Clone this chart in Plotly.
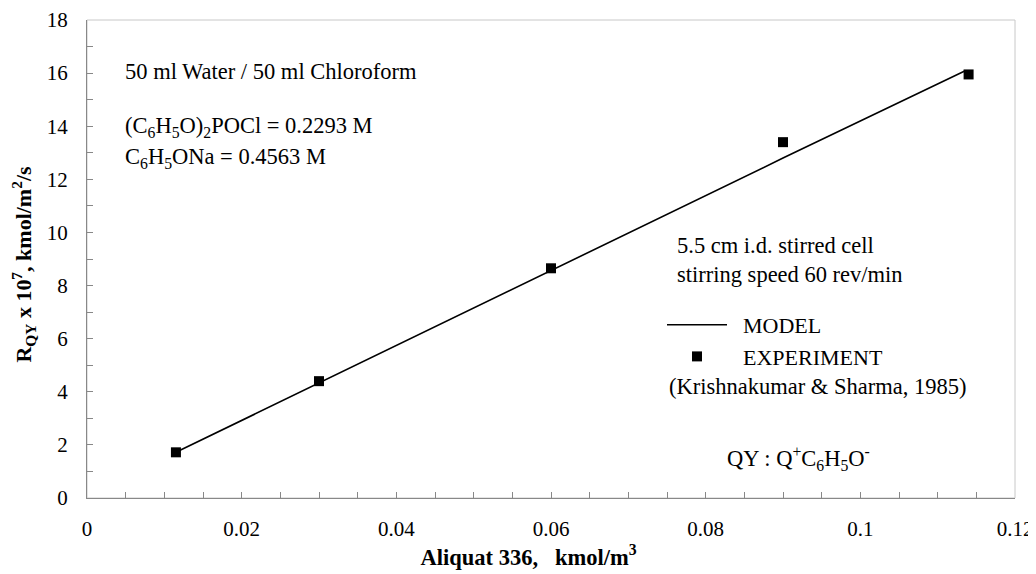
import plotly.graph_objects as go

# Data
exp_x = [0.0115, 0.030, 0.060, 0.090, 0.114]
exp_y = [1.72, 4.40, 8.65, 13.40, 15.95]
model_x = [0.0115, 0.030, 0.060, 0.090, 0.1135]
model_y = [1.72, 4.33, 8.57, 12.80, 16.08]

x_tickvals = [0, 0.02, 0.04, 0.06, 0.08, 0.1, 0.12]
x_ticktext = ["0", "0.02", "0.04", "0.06", "0.08", "0.1", "0.12"]

FONT = "Liberation Serif, Times New Roman, serif"

fig = go.Figure()
fig.add_trace(go.Scatter(x=model_x, y=model_y, mode="lines", name="&nbsp;&nbsp;MODEL",
                         line=dict(color="black", width=1.6)))
fig.add_trace(go.Scatter(x=exp_x, y=exp_y, mode="markers", name="&nbsp;&nbsp;EXPERIMENT",
                         marker=dict(symbol="square", size=10, color="black")))

axis_common = dict(showgrid=False, zeroline=False, showline=True, linecolor="#888888",
                   linewidth=1, ticks="inside", ticklen=6, tickcolor="#888888",
                   automargin=False,
                   tickfont=dict(family=FONT, size=21, color="black"))

fig.update_xaxes(range=[0, 0.12], tickvals=x_tickvals, ticktext=x_ticktext,
                 ticklabelstandoff=12,
                 minor=dict(dtick=0.005, tick0=0, ticks="inside", ticklen=6, tickcolor="#888888"),
                 title=dict(text="<b>Aliquat 336,   kmol/m<sup>3</sup></b>" + "&nbsp;" * 8,
                            font=dict(family=FONT, size=22.5, color="black"), standoff=0),
                 **axis_common)
fig.update_yaxes(range=[0, 18], dtick=2, ticklabelstandoff=14,
                 minor=dict(dtick=1, ticks="inside", ticklen=6, tickcolor="#888888"),
                 title=dict(text="<b>R<sub>QY</sub> x 10<sup>7</sup>, kmol/m<sup>2</sup>/s</b>" + "&nbsp;" * 2,
                            font=dict(family=FONT, size=22, color="black"), standoff=10),
                 **axis_common)

# light top/right border
fig.add_shape(type="rect", xref="paper", yref="paper", x0=0, y0=0, x1=1, y1=1,
              line=dict(color="#c8c8c8", width=1), layer="below")

def note(text, x, y, anchor="left"):
    fig.add_annotation(text=text, xref="paper", yref="paper", x=x, y=y,
                       xanchor=anchor, yanchor="middle", showarrow=False,
                       font=dict(family=FONT, size=22.5, color="black"))

# paper coords: plot area spans page pixels x 87..1015, y 20..498
def px(xp):
    return (xp - 87) / 928.0

def py(yp):
    return (498 - yp) / 478.0

note("50 ml Water / 50 ml Chloroform", px(123), py(72))
note("(C<sub>6</sub>H<sub>5</sub>O)<sub>2</sub>POCl = 0.2293 M", px(123), py(127))
note("C<sub>6</sub>H<sub>5</sub>ONa = 0.4563 M", px(123), py(158))
note("5.5 cm i.d. stirred cell", px(675), py(246))
note("stirring speed 60 rev/min", px(675), py(274))
note("(Krishnakumar &amp; Sharma, 1985)", px(667), py(386))
note("QY : Q<sup>+</sup>C<sub>6</sub>H<sub>5</sub>O<sup>-</sup>", px(725), py(458))

# the page body adds an 8px offset; size the figure to fill the rest of the window
fig.update_layout(
    width=1028, height=566,
    margin=dict(l=79, r=21, t=12, b=76),
    paper_bgcolor="white", plot_bgcolor="white",
    showlegend=True,
    legend=dict(x=px(662), y=py(304), xanchor="left", yanchor="top",
                font=dict(family=FONT, size=22, color="black"),
                bgcolor="rgba(0,0,0,0)", itemwidth=60, tracegroupgap=0),
    font=dict(family=FONT, color="black"),
)

fig.write_html("out.html")
